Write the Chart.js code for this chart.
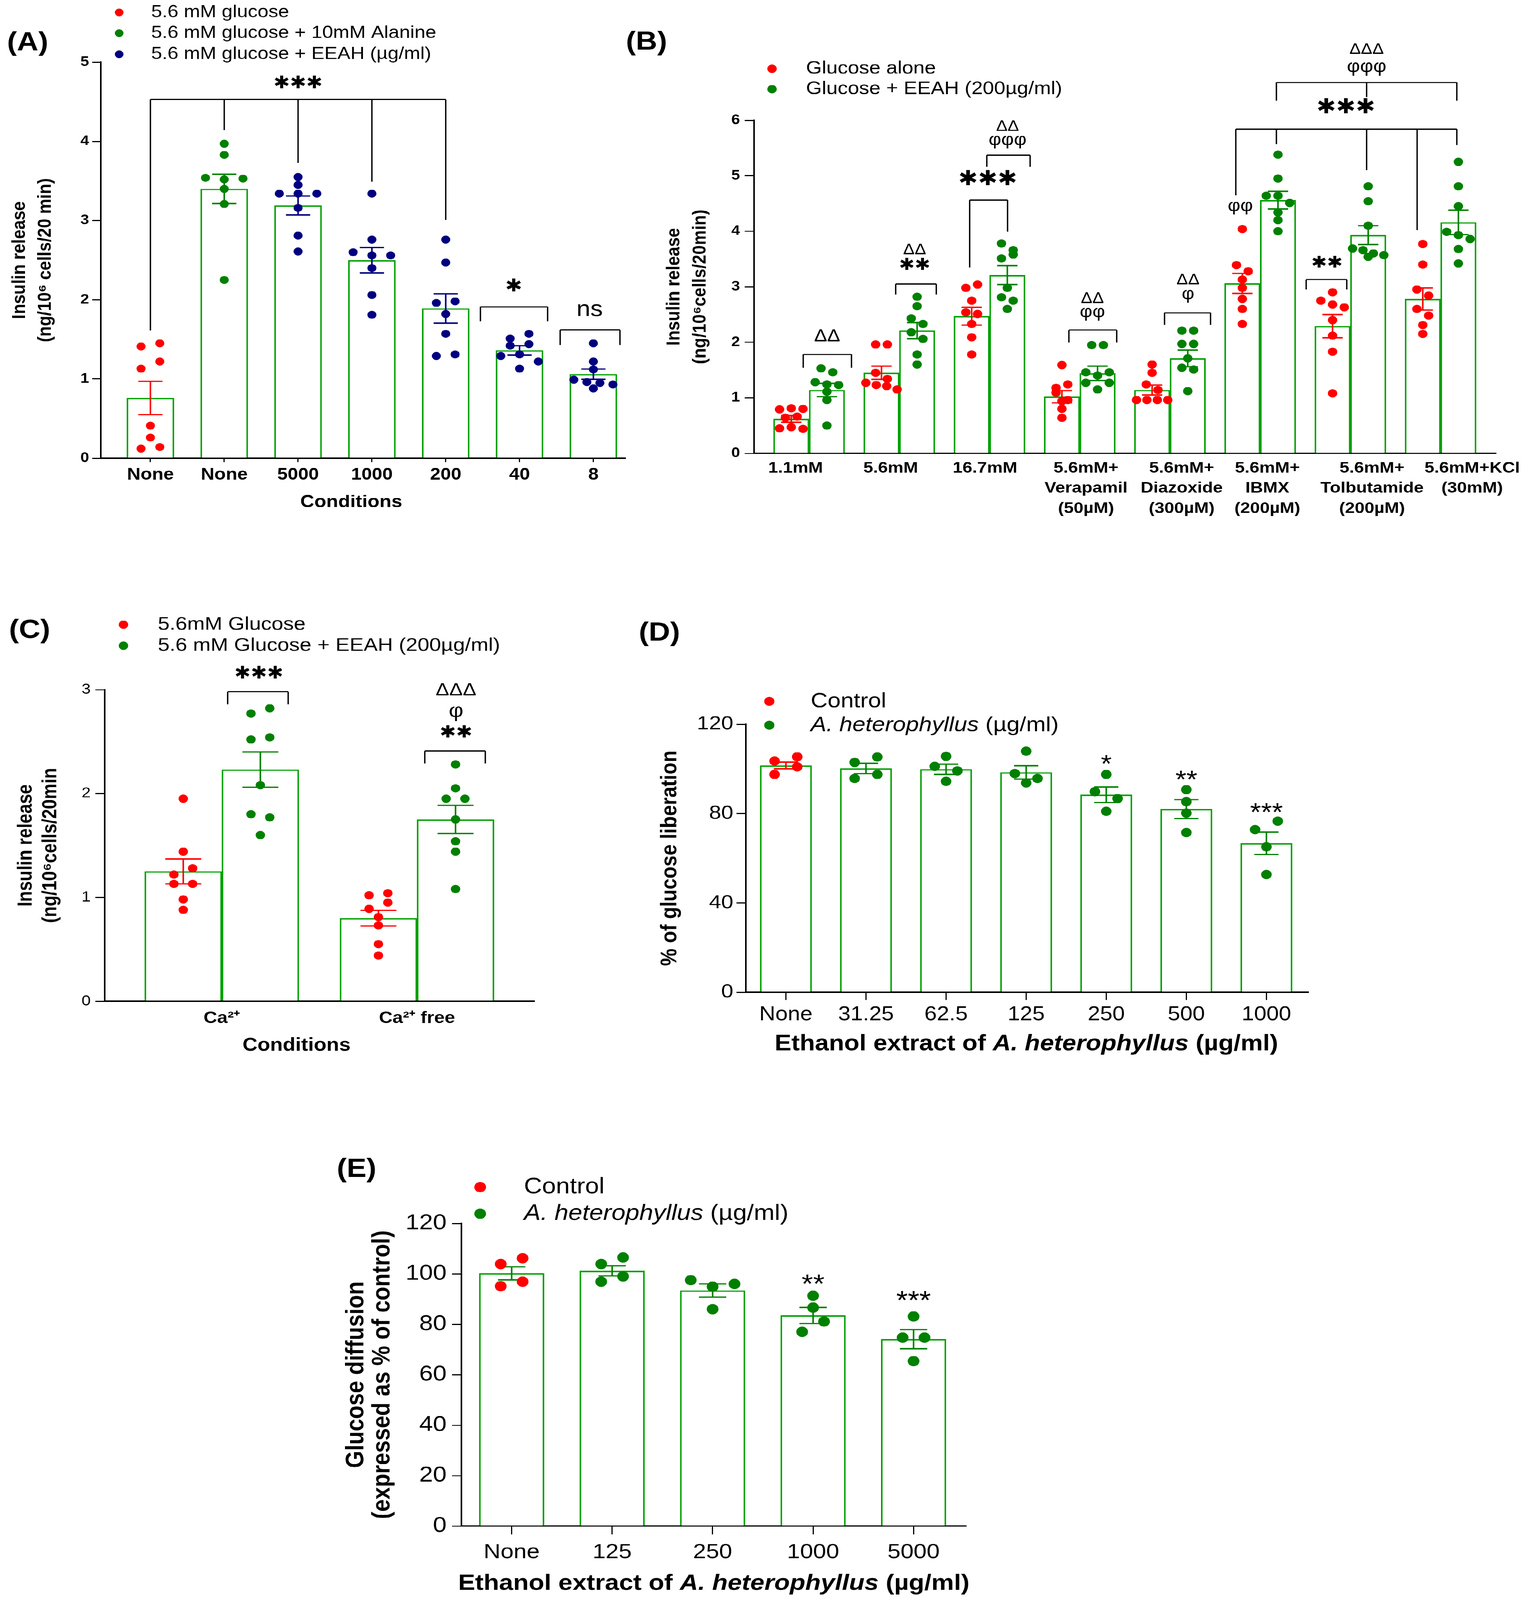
<!DOCTYPE html>
<html>
<head>
<meta charset="utf-8">
<title>Insulin release, glucose liberation and glucose diffusion</title>
<script src="https://cdn.jsdelivr.net/npm/chart.js@4.4.1/dist/chart.umd.min.js"></script>
<style>
  html, body { margin: 0; padding: 0; background: #fff; overflow: hidden; }
  #page { position: absolute; left: 0; top: 0; width: 3916px; height: 4631px; transform-origin: 0 0; background: #fff; }
  canvas { position: absolute; }
</style>
</head>
<body>
<div id="page"></div>
<script>
// ---- (A) insulin release, alanine vs EEAH doses ----
const aCategories = ['None', 'None', '5000', '1000', '200', '40', '8'];
const aSeriesNames = ['5.6 mM glucose', '5.6 mM glucose + 10mM Alanine', '5.6 mM glucose + EEAH (µg/ml)'];
const aBarSeries = [0, 1, 2, 2, 2, 2, 2];
const aYTicks = [0, 1, 2, 3, 4, 5];
const aMeans = [0.76, 3.40, 3.19, 2.50, 1.89, 1.36, 1.06];
const aSem = [0.21, 0.185, 0.12, 0.16, 0.185, 0.06, 0.065];
const aPoints = [
  [1.41, 1.45, 1.13, 1.22, 0.41, 0.26, 0.12, 0.14],
  [3.97, 3.83, 3.54, 3.52, 3.53, 3.40, 3.21, 2.25],
  [3.55, 3.45, 3.34, 3.34, 3.34, 3.16, 2.81, 2.61],
  [3.34, 2.76, 2.60, 2.56, 2.56, 2.40, 2.06, 1.81],
  [2.76, 2.47, 1.96, 1.98, 1.82, 1.57, 1.29, 1.31],
  [1.51, 1.57, 1.42, 1.44, 1.29, 1.31, 1.13, 1.22],
  [1.45, 1.22, 1.12, 0.99, 0.96, 0.95, 0.93, 0.88]
];

// ---- (B) insulin release with modulators ----
const bCategories = [['1.1mM'], ['5.6mM'], ['16.7mM'], ['5.6mM+', 'Verapamil', '(50µM)'], ['5.6mM+', 'Diazoxide', '(300µM)'],
  ['5.6mM+', 'IBMX', '(200µM)'], ['5.6mM+', 'Tolbutamide', '(200µM)'], ['5.6mM+KCl', '(30mM)']];
const bSeriesNames = ['Glucose alone', 'Glucose + EEAH (200µg/ml)'];
const bYTicks = [0, 1, 2, 3, 4, 5, 6];
const bMeansAlone = [0.62, 1.45, 2.47, 1.02, 1.14, 3.06, 2.29, 2.78];
const bMeansEeah = [1.14, 2.21, 3.21, 1.44, 1.71, 4.56, 3.93, 4.16];
const bSemAlone = [0.06, 0.12, 0.16, 0.11, 0.09, 0.18, 0.21, 0.20];
const bSemEeah = [0.12, 0.145, 0.17, 0.13, 0.15, 0.16, 0.17, 0.22];
const bPointsAlone = [
  [0.79, 0.81, 0.80, 0.64, 0.66, 0.45, 0.47, 0.44],
  [1.96, 1.96, 1.45, 1.34, 1.27, 1.23, 1.21, 1.15],
  [2.98, 3.04, 2.75, 2.54, 2.51, 2.33, 2.09, 1.78],
  [1.59, 1.18, 1.24, 1.09, 0.96, 0.94, 0.80, 0.64],
  [1.60, 1.45, 1.24, 1.14, 0.96, 0.96, 0.96, 0.96],
  [4.04, 3.39, 3.28, 3.13, 2.98, 2.78, 2.60, 2.33],
  [2.90, 2.75, 2.68, 2.63, 2.40, 2.12, 1.83, 1.08],
  [3.77, 3.40, 2.95, 2.84, 2.60, 2.48, 2.31, 2.15]
];
const bPointsEeah = [
  [1.53, 1.46, 1.28, 1.24, 1.23, 1.11, 0.96, 0.50],
  [2.82, 2.65, 2.43, 2.33, 2.18, 2.06, 1.78, 1.60],
  [3.78, 3.66, 3.51, 3.58, 2.98, 2.81, 2.75, 2.60],
  [1.95, 1.95, 1.46, 1.40, 1.46, 1.27, 1.15, 1.27],
  [2.21, 2.21, 1.97, 1.97, 1.71, 1.54, 1.51, 1.12],
  [5.38, 4.95, 4.64, 4.64, 4.51, 4.34, 4.20, 4.00],
  [4.81, 4.54, 4.10, 3.69, 3.66, 3.60, 3.57, 3.54],
  [5.25, 4.81, 4.45, 3.99, 3.93, 3.86, 3.68, 3.42]
];

// ---- (C) calcium dependence ----
const cCategories = ['Ca²⁺', 'Ca²⁺ free'];
const cSeriesNames = ['5.6mM Glucose', '5.6 mM Glucose + EEAH (200µg/ml)'];
const cYTicks = [0, 1, 2, 3];
const cMeansGlucose = [1.25, 0.80];
const cMeansEeah = [2.23, 1.75];
const cSemGlucose = [0.12, 0.075];
const cSemEeah = [0.17, 0.135];
const cPointsGlucose = [
  [1.95, 1.44, 1.22, 1.28, 1.13, 1.13, 0.98, 0.88],
  [1.02, 1.04, 0.89, 0.95, 0.81, 0.73, 0.55, 0.44]
];
const cPointsEeah = [
  [2.77, 2.82, 2.52, 2.54, 2.08, 1.80, 1.77, 1.60],
  [2.28, 2.05, 1.95, 1.95, 1.75, 1.54, 1.44, 1.08]
];

// ---- (D) glucose liberation ----
const dCategories = ['None', '31.25', '62.5', '125', '250', '500', '1000'];
const dSeriesNames = ['Control', 'A. heterophyllus (µg/ml)'];
const dBarSeries = [0, 1, 1, 1, 1, 1, 1];
const dYTicks = [0, 40, 80, 120];
const dMeans = [101.5, 100.2, 99.8, 98.4, 88.4, 82.0, 66.7];
const dSem = [1.5, 2.3, 2.3, 3.0, 3.5, 4.2, 5.0];
const dPoints = [
  [103.5, 105.4, 97.5, 100.9],
  [102.9, 105.3, 95.7, 97.5],
  [105.6, 101.1, 99.1, 94.4],
  [107.9, 97.9, 95.7, 93.7],
  [97.5, 89.8, 86.7, 81.0],
  [90.7, 85.3, 80.2, 71.5],
  [72.8, 76.6, 65.1, 52.7]
];

// ---- (E) glucose diffusion ----
const eCategories = ['None', '125', '250', '1000', '5000'];
const eSeriesNames = ['Control', 'A. heterophyllus (µg/ml)'];
const eBarSeries = [0, 1, 1, 1, 1];
const eYTicks = [0, 20, 40, 60, 80, 100, 120];
const eMeans = [100.2, 101.2, 93.4, 83.5, 74.1];
const eSem = [2.6, 2.0, 2.6, 3.2, 3.8];
const ePoints = [
  [103.9, 106.2, 95.1, 96.9],
  [103.9, 106.5, 96.9, 99.0],
  [97.5, 94.9, 96.0, 86.0],
  [91.3, 86.6, 77.0, 81.1],
  [83.1, 74.7, 74.7, 65.4]
];

const PAGE_W = 3916, PAGE_H = 4631;
const FONT = "'Liberation Sans', Arial, Helvetica, sans-serif";
const STAR_FONT = "'DejaVu Sans', sans-serif";
const RED = '#ff0000', GREEN = '#008000', NAVY = '#000080', BAR_GREEN = '#00a000';
const speciesName = 'A. heterophyllus';
const page = document.getElementById('page');

// spread points that would overlap into rows, GraphPad style
function swarmOffsets(values, tol, step, span) {
  const order = values.map((v, i) => i).sort((p, q) => values[q] - values[p]);
  const offs = values.map(() => 0);
  let k = 0;
  while (k < order.length) {
    const row = [order[k]];
    let m = k + 1;
    while (m < order.length && values[order[k]] - values[order[m]] < tol) { row.push(order[m]); m++; }
    row.sort((p, q) => p - q);
    const n = row.length;
    const st = n > 1 ? Math.min(step, span / (n - 1)) : 0;
    row.forEach((idx, j) => { offs[idx] = (j - (n - 1) / 2) * st; });
    k = m;
  }
  return offs;
}

// text with the species name in italics
function drawRich(ctx, text, x, y, size, bold, align) {
  const segs = [];
  text.split(speciesName).forEach((part, i) => {
    if (i > 0) segs.push({ t: speciesName, it: true });
    if (part) segs.push({ t: part, it: false });
  });
  const fontOf = s => (s.it ? 'italic ' : '') + (bold ? 'bold ' : '') + size + 'px ' + FONT;
  let total = 0;
  segs.forEach(s => { ctx.font = fontOf(s); s.w = ctx.measureText(s.t).width; total += s.w; });
  let cx = align === 'center' ? x - total / 2 : x;
  ctx.textAlign = 'left';
  ctx.textBaseline = 'middle';
  segs.forEach(s => { ctx.font = fontOf(s); ctx.fillText(s.t, cx, y); cx += s.w; });
}

function makeExtras(p) {
  return {
    id: 'extras',
    afterDatasetDraw(chart, args) {
      if (args.meta.type !== 'bar') return;
      const s = args.index;
      const ys = chart.scales.y, ctx = chart.ctx;
      ctx.save();
      ctx.lineWidth = 4;
      args.meta.data.forEach((el, i) => {
        const m = p.means[s][i], e = p.sems[s][i];
        const top = ys.getPixelForValue(m + e), bot = ys.getPixelForValue(m - e);
        ctx.strokeStyle = p.errColor(s, i);
        ctx.beginPath();
        ctx.moveTo(el.x, top); ctx.lineTo(el.x, bot);
        ctx.moveTo(el.x - p.cap, top); ctx.lineTo(el.x + p.cap, top);
        ctx.moveTo(el.x - p.cap, bot); ctx.lineTo(el.x + p.cap, bot);
        ctx.stroke();
      });
      ctx.restore();
    },
    afterDraw(chart) {
      const ctx = chart.ctx, xs = chart.scales.x, ys = chart.scales.y;
      ctx.save();
      // significance brackets
      ctx.strokeStyle = '#000';
      ctx.lineWidth = 3.5;
      (p.brackets || []).forEach(([yv, legs]) => {
        const yp = ys.getPixelForValue(yv);
        const xsPix = legs.map(l => xs.getPixelForValue(l[0]));
        ctx.beginPath();
        ctx.moveTo(Math.min(...xsPix), yp); ctx.lineTo(Math.max(...xsPix), yp);
        legs.forEach((l, j) => { ctx.moveTo(xsPix[j], yp); ctx.lineTo(xsPix[j], ys.getPixelForValue(l[1])); });
        ctx.stroke();
      });
      // significance symbols
      ctx.fillStyle = '#000';
      ctx.textAlign = 'center';
      (p.notes || []).forEach(([xv, yv, t, size]) => {
        const px = xs.getPixelForValue(xv);
        let py = ys.getPixelForValue(yv);
        if (t.indexOf('✱') >= 0) { ctx.font = size + 'px ' + STAR_FONT; ctx.textBaseline = 'middle'; }
        else if (/^\*+$/.test(t)) { ctx.font = size + 'px ' + FONT; ctx.textBaseline = 'alphabetic'; py += 0.58 * size; }
        else { ctx.font = size + 'px ' + FONT; ctx.textBaseline = 'middle'; }
        ctx.fillText(t, px, py);
      });
      // legend
      const lg = p.legend;
      p.seriesNames.forEach((name, i) => {
        ctx.fillStyle = p.seriesColors[i];
        ctx.beginPath();
        ctx.arc(lg.dotX, lg.rows[i], lg.r, 0, Math.PI * 2);
        ctx.fill();
        ctx.fillStyle = '#000';
        drawRich(ctx, name, lg.textX, lg.rows[i], lg.size, false, 'left');
      });
      // x axis title
      if (p.xTitle) {
        ctx.fillStyle = '#000';
        drawRich(ctx, p.xTitle.text, p.xTitle.x, p.xTitle.y, p.xTitle.size, true, 'center');
      }
      // panel letter
      ctx.fillStyle = '#000';
      ctx.font = 'bold 76px ' + FONT;
      ctx.textAlign = 'left';
      ctx.textBaseline = 'middle';
      ctx.fillText(p.label, p.labelPos[0], p.labelPos[1]);
      ctx.restore();
    }
  };
}

function buildPanel(p) {
  const cv = document.createElement('canvas');
  cv.width = p.w; cv.height = p.h;
  Object.assign(cv.style, { left: p.x0 + 'px', top: p.y0 + 'px', width: p.w + 'px', height: p.h + 'px' });
  page.appendChild(cv);

  const a = p.area;
  const nB = p.means.length;
  const pxPerY = (a.bottom - a.top) / p.yMax;
  const pxPerX = (a.right - a.left) / (p.xMax - p.xMin);
  const slot = p.catPct / nB;
  const nudge = p.xTick.nudge || [];

  const datasets = p.means.map(row => ({
    type: 'bar',
    data: row.map((v, i) => ({ x: i, y: v })),
    backgroundColor: '#ffffff',
    borderColor: BAR_GREEN,
    borderWidth: 4,
    barThickness: slot * pxPerX,
    order: 2
  }));

  const pts = [], cols = [];
  p.points.forEach((rows, s) => rows.forEach((vals, i) => {
    const offs = swarmOffsets(vals, p.swarm.tol / pxPerY, p.swarm.step / pxPerX, p.swarm.span / pxPerX);
    const cx = i + (s - (nB - 1) / 2) * slot;
    vals.forEach((v, k) => { pts.push({ x: cx + offs[k], y: v }); cols.push(p.dotColor(s, i)); });
  }));
  datasets.push({
    type: 'scatter', data: pts, showLine: false, clip: false, order: 0,
    pointRadius: p.dotR, pointHoverRadius: p.dotR,
    pointBackgroundColor: cols, pointBorderColor: cols, pointBorderWidth: 0
  });

  new Chart(cv, {
    type: 'bar',
    data: { datasets },
    options: {
      responsive: false,
      animation: false,
      devicePixelRatio: 1,
      events: [],
      layout: { autoPadding: false, padding: { left: 0, top: a.top, right: p.w - a.right, bottom: 0 } },
      plugins: { legend: { display: false }, tooltip: { enabled: false }, title: { display: false } },
      scales: {
        x: {
          type: 'linear', min: p.xMin, max: p.xMax, offset: false,
          afterBuildTicks: s => { s.ticks = p.categories.map((c, i) => ({ value: i + (nudge[i] || 0) })); },
          afterFit: s => { s.height = p.h - a.bottom; s.paddingLeft = 0; s.paddingRight = 0; },
          ticks: {
            autoSkip: false, maxRotation: 0, minRotation: 0, color: '#000',
            padding: p.xTick.pad, align: 'center',
            font: { family: FONT, size: p.xTick.size, weight: p.xTick.bold ? 'bold' : 'normal', lineHeight: p.xTick.lh || 1.2 },
            callback: (v, i) => p.categories[i]
          },
          grid: { display: true, offset: false, drawOnChartArea: false, drawTicks: p.xTick.len > 0, tickLength: p.xTick.len, color: '#000', lineWidth: 3 },
          border: { display: true, color: '#000', width: 4 }
        },
        y: {
          type: 'linear', min: 0, max: p.yMax,
          afterBuildTicks: s => { s.ticks = p.yTicks.map(v => ({ value: v })); },
          afterFit: s => { s.width = a.left; s.paddingTop = 0; s.paddingBottom = 0; },
          ticks: {
            color: '#000', padding: p.yTick.pad,
            font: { family: FONT, size: p.yTick.size, weight: p.yTick.bold ? 'bold' : 'normal' },
            callback: v => String(v)
          },
          grid: { display: true, drawOnChartArea: false, drawTicks: true, tickLength: p.yTick.len, color: '#000', lineWidth: 3 },
          border: { display: true, color: '#000', width: 4 },
          title: {
            display: true, text: p.yTitle.text, color: '#000',
            font: { family: FONT, size: p.yTitle.size, weight: 'bold', lineHeight: p.yTitle.lh },
            padding: { top: p.yTitle.pad, bottom: 0 }
          }
        }
      }
    },
    plugins: [makeExtras(p)]
  });
}

const aColors = [RED, GREEN, NAVY];
buildPanel({
  label: '(A)', labelPos: [18, 125],
  x0: 0, y0: 0, w: 1640, h: 1500,
  area: { left: 258, top: 180, right: 1600, bottom: 1326 },
  xMin: -0.672, xMax: 6.43, yMax: 5, yTicks: aYTicks, categories: aCategories,
  means: [aMeans], sems: [aSem], points: [aPoints],
  dotColor: (s, i) => aColors[aBarSeries[i]], errColor: (s, i) => aColors[aBarSeries[i]],
  seriesNames: aSeriesNames, seriesColors: aColors,
  catPct: 0.64, dotR: 11.5, cap: 31, swarm: { tol: 22, step: 48, span: 100 },
  yTick: { size: 40, bold: true, len: 22, pad: 8 },
  xTick: { size: 48, bold: true, len: 11, pad: 9 },
  yTitle: { text: ['Insulin release', '(ng/10⁶ cells/20 min)'], size: 49, lh: 1.35, pad: 17 },
  xTitle: { text: 'Conditions', x: 899, y: 1454, size: 50 },
  legend: { dotX: 305, textX: 387, rows: [36, 96, 157], r: 11, size: 50 },
  brackets: [
    [4.53, [[0, 1.61], [1, 4.14], [2, 3.73], [3, 3.49], [4, 3.01]]],
    [1.91, [[4.47, 1.73], [5.38, 1.73]]],
    [1.62, [[5.55, 1.43], [6.36, 1.43]]]
  ],
  notes: [[2, 4.73, '✱✱✱', 50], [4.92, 2.16, '✱', 52], [5.95, 1.87, 'ns', 64]]
});

buildPanel({
  label: '(B)', labelPos: [2, 123],
  x0: 1600, y0: 0, w: 2316, h: 1520,
  area: { left: 330, top: 348, right: 2228, bottom: 1312 },
  xMin: -0.61, xMax: 7.61, yMax: 6, yTicks: bYTicks, categories: bCategories,
  means: [bMeansAlone, bMeansEeah], sems: [bSemAlone, bSemEeah], points: [bPointsAlone, bPointsEeah],
  dotColor: s => [RED, GREEN][s], errColor: s => [RED, GREEN][s],
  seriesNames: bSeriesNames, seriesColors: [RED, GREEN],
  catPct: 0.79, dotR: 12, cap: 26, swarm: { tol: 21, step: 30, span: 80 },
  yTick: { size: 40, bold: true, len: 24, pad: 12 },
  xTick: { size: 45, bold: true, len: 0, pad: 15, lh: 1.29, nudge: [-0.15, -0.095, -0.05, 0.07, 0.13, 0.08, 0.24, 0.35] },
  yTitle: { text: ['Insulin release', '(ng/10⁶cells/20min)'], size: 49, lh: 1.37, pad: 92 },
  legend: { dotX: 376, textX: 463, rows: [199, 258], r: 12, size: 52 },
  brackets: [
    [1.78, [[-0.065, 1.54], [0.47, 1.54]]],
    [3.05, [[0.96, 2.86], [1.41, 2.86]]],
    [4.56, [[1.78, 3.35], [2.20, 3.99]]],
    [5.37, [[1.97, 5.16], [2.45, 5.16]]],
    [2.22, [[2.88, 2.0], [3.41, 2.0]]],
    [2.53, [[3.94, 2.31], [4.45, 2.31]]],
    [3.13, [[5.51, 2.95], [5.96, 2.95]]],
    [5.84, [[4.73, 4.65], [5.18, 5.57], [6.18, 5.10], [6.74, 4.02], [7.18, 5.55]]],
    [6.68, [[5.18, 6.35], [6.18, 6.42], [7.18, 6.35]]]
  ],
  notes: [
    [0.20, 2.10, 'ΔΔ', 50],
    [1.17, 3.38, '✱✱', 48], [1.17, 3.66, 'ΔΔ', 44],
    [1.98, 4.93, '✱✱✱', 60],
    [2.20, 5.64, 'φφφ', 50], [2.20, 5.88, 'ΔΔ', 44],
    [3.14, 2.54, 'φφ', 50], [3.14, 2.78, 'ΔΔ', 44],
    [4.20, 2.86, 'φ', 50], [4.20, 3.12, 'ΔΔ', 44],
    [4.78, 4.45, 'φφ', 50],
    [5.74, 3.42, '✱✱', 48],
    [5.95, 6.22, '✱✱✱', 60],
    [6.18, 6.96, 'φφφ', 52], [6.18, 7.27, 'ΔΔΔ', 44]
  ]
});

buildPanel({
  label: '(C)', labelPos: [23, 85],
  x0: 0, y0: 1740, w: 1450, h: 1360,
  area: { left: 268, top: 256, right: 1367, bottom: 1158 },
  xMin: -0.60, xMax: 1.60, yMax: 3, yTicks: cYTicks, categories: cCategories,
  means: [cMeansGlucose, cMeansEeah], sems: [cSemGlucose, cSemEeah], points: [cPointsGlucose, cPointsEeah],
  dotColor: s => [RED, GREEN][s], errColor: s => [RED, GREEN][s],
  seriesNames: cSeriesNames, seriesColors: [RED, GREEN],
  catPct: 0.79, dotR: 12, cap: 46, swarm: { tol: 22.5, step: 48, span: 120 },
  yTick: { size: 42, bold: false, len: 24, pad: 12 },
  xTick: { size: 48, bold: true, len: 0, pad: 21 },
  yTitle: { text: ['Insulin release', '(ng/10⁶cells/20min'], size: 51, lh: 1.235, pad: 35 },
  xTitle: { text: 'Conditions', x: 759, y: 1286, size: 53 },
  legend: { dotX: 316, textX: 404, rows: [68, 129], r: 12, size: 54 },
  brackets: [
    [2.98, [[0.03, 2.86], [0.34, 2.86]]],
    [2.41, [[1.04, 2.29], [1.35, 2.29]]]
  ],
  notes: [[0.19, 3.15, '✱✱✱', 50], [1.20, 2.58, '✱✱', 50], [1.20, 2.79, 'φ', 58], [1.20, 2.99, 'ΔΔΔ', 52]]
});

buildPanel({
  label: '(D)', labelPos: [35, 93],
  x0: 1600, y0: 1740, w: 1800, h: 1360,
  area: { left: 309, top: 356, right: 1748, bottom: 1132 },
  xMin: -0.50, xMax: 6.52, yMax: 120, yTicks: dYTicks, categories: dCategories,
  means: [dMeans], sems: [dSem], points: [dPoints],
  dotColor: (s, i) => [RED, GREEN][dBarSeries[i]], errColor: (s, i) => [RED, GREEN][dBarSeries[i]],
  seriesNames: dSeriesNames, seriesColors: [RED, GREEN],
  catPct: 0.644, dotR: 13.5, cap: 31, swarm: { tol: 26, step: 58, span: 120 },
  yTick: { size: 56, bold: false, len: 24, pad: 8 },
  xTick: { size: 57, bold: false, len: 22, pad: 9 },
  yTitle: { text: '% of glucose liberation', size: 57, lh: 1.2, pad: 81 },
  xTitle: { text: 'Ethanol extract of A. heterophyllus (µg/ml)', x: 1027, y: 1282, size: 64 },
  legend: { dotX: 369, textX: 475, rows: [290, 359], r: 13, size: 60 },
  notes: [[4, 104.9, '*', 72], [5, 97.9, '**', 72], [6, 83.3, '***', 72]]
});

buildPanel({
  label: '(E)', labelPos: [62, 85],
  x0: 800, y0: 3300, w: 1760, h: 1331,
  area: { left: 381, top: 241, right: 1672, bottom: 1117 },
  xMin: -0.50, xMax: 4.52, yMax: 120, yTicks: eYTicks, categories: eCategories,
  means: [eMeans], sems: [eSem], points: [ePoints],
  dotColor: (s, i) => [RED, GREEN][eBarSeries[i]], errColor: () => GREEN,
  seriesNames: eSeriesNames, seriesColors: [RED, GREEN],
  catPct: 0.646, dotR: 15, cap: 35, swarm: { tol: 30, step: 56, span: 140 },
  yTick: { size: 63, bold: false, len: 24, pad: 14 },
  xTick: { size: 60, bold: false, len: 24, pad: 16 },
  yTitle: { text: ['Glucose diffusion', '(expressed as % of control)'], size: 64, lh: 1.06, pad: 78 },
  xTitle: { text: 'Ethanol extract of A. heterophyllus (µg/ml)', x: 1027, y: 1284, size: 65 },
  legend: { dotX: 429, textX: 541, rows: [136, 213], r: 15, size: 64 },
  notes: [[3, 98.6, '**', 76], [4, 92.0, '***', 76]]
});

// the window may be shorter than the figure: fit the whole figure into it
function fitPage() {
  const sx = Math.min(1, window.innerWidth / PAGE_W);
  const sy = Math.min(1, window.innerHeight / PAGE_H);
  page.style.transform = 'scale(' + sx + ',' + sy + ')';
}
fitPage();
window.addEventListener('resize', fitPage);
</script>
</body>
</html>
